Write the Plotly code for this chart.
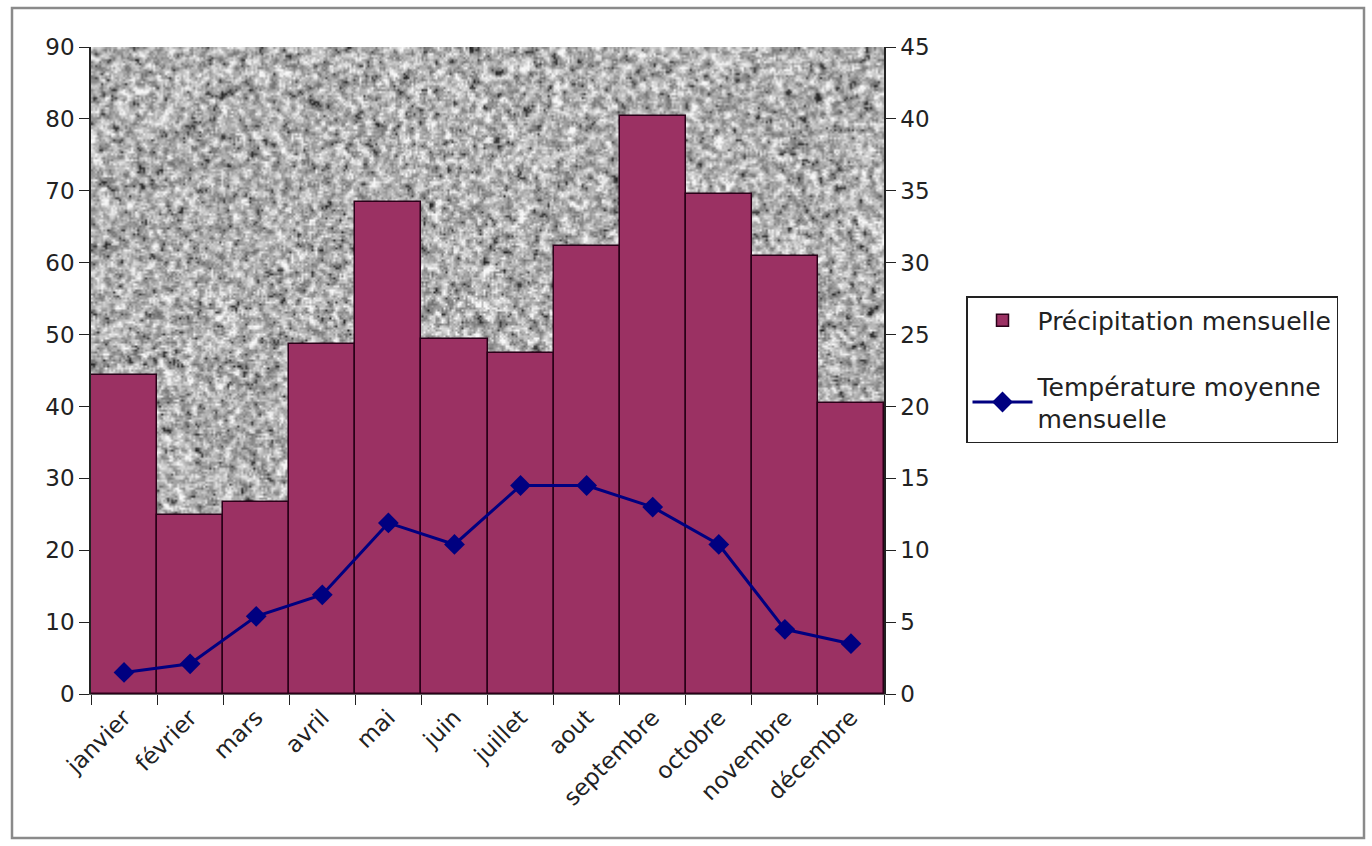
import base64
import struct
import zlib

import numpy as np
import plotly.graph_objects as go

# Données mensuelles
mois = ["janvier", "février", "mars", "avril", "mai", "juin", "juillet",
        "aout", "septembre", "octobre", "novembre", "décembre"]
precipitation = [44.4, 24.9, 26.7, 48.7, 68.4, 49.4, 47.4, 62.3, 80.4, 69.5, 60.9, 40.5]
temperature = [1.5, 2.1, 5.4, 6.9, 11.9, 10.4, 14.5, 14.5, 13.0, 10.4, 4.5, 3.5]
ticks_gauche = list(range(0, 91, 10))
ticks_droite = list(range(0, 46, 5))

W, H = 1372, 846
L, R, T, B = 91, 488, 47, 152
PW, PH = W - L - R, H - T - B


def png_gris(a):
    """Encode un tableau uint8 2D en PNG niveaux de gris."""
    h, w = a.shape
    raw = b"".join(b"\x00" + a[r].tobytes() for r in range(h))

    def chunk(tag, data):
        c = tag + data
        return struct.pack(">I", len(data)) + c + struct.pack(">I", zlib.crc32(c) & 0xFFFFFFFF)

    return (b"\x89PNG\r\n\x1a\n"
            + chunk(b"IHDR", struct.pack(">IIBBBBB", w, h, 8, 0, 0, 0, 0))
            + chunk(b"IDAT", zlib.compress(raw, 9))
            + chunk(b"IEND", b""))


def texture_granit(w, h, seed=11):
    """Fond de type granit pour la zone de tracé."""
    rng = np.random.default_rng(seed)
    n = rng.standard_normal((h + 2, w + 2))
    flou = sum(n[i:i + h, j:j + w] for i in range(3) for j in range(3)) / 3.0
    fin = rng.standard_normal((h, w))
    g = 0.75 * flou + 0.45 * fin
    v = 176 + 40 * g
    v = np.where(g < -1.7, v - 35, v)
    return np.clip(v, 35, 248).astype(np.uint8)


fond = texture_granit(PW // 2, PH // 2)
fond_uri = "data:image/png;base64," + base64.b64encode(png_gris(fond)).decode()

police = "DejaVu Sans"
encre = "#222222"

fig = go.Figure()
fig.add_trace(go.Bar(
    x=mois, y=precipitation, name="Précipitation mensuelle",
    legendgroup="a",
    marker=dict(color="#9b3163", line=dict(color="#2a0018", width=1.5)),
))
fig.add_trace(go.Scatter(
    x=mois, y=temperature, yaxis="y2", name="Température moyenne<br>mensuelle",
    legendgroup="b",
    mode="lines+markers",
    line=dict(color="#000080", width=3),
    marker=dict(symbol="diamond", size=16, color="#000080"),
))

axe_y = dict(
    ticks="outside", ticklen=10, tickwidth=1.2, tickcolor=encre,
    showline=True, linecolor=encre, linewidth=1.5,
    showgrid=False, zeroline=False,
    tickfont=dict(family=police, size=23, color=encre),
)

fig.update_layout(
    width=W, height=H,
    margin=dict(l=L, r=R, t=T, b=B),
    paper_bgcolor="white",
    plot_bgcolor="rgba(0,0,0,0)",
    bargap=0,
    font=dict(family=police, color=encre),
    xaxis=dict(
        type="category", range=[-0.5, 11.5], tickson="boundaries",
        ticks="outside", ticklen=10, tickcolor=encre, tickangle=-45,
        showline=True, linecolor="#666", linewidth=1, showgrid=False,
        tickfont=dict(family=police, size=23, color=encre),
    ),
    yaxis=dict(range=[0, 90], tickvals=ticks_gauche, **axe_y),
    yaxis2=dict(range=[0, 45], tickvals=ticks_droite, overlaying="y", side="right", **axe_y),
    legend=dict(
        x=(966 - L) / PW, y=(H - B - 296) / PH, xanchor="left", yanchor="top",
        bordercolor=encre, borderwidth=1.5, bgcolor="white",
        font=dict(family=police, size=25, color=encre),
        traceorder="grouped", tracegroupgap=30, itemwidth=60,
    ),
    images=[dict(
        source=fond_uri, xref="paper", yref="paper", x=0, y=1, sizex=1, sizey=1,
        xanchor="left", yanchor="top", sizing="stretch", layer="below",
    )],
    shapes=[dict(
        type="rect", xref="paper", yref="paper",
        x0=(12 - L) / PW, x1=(1364 - L) / PW,
        y0=(H - B - 838) / PH, y1=(H - B - 8) / PH,
        line=dict(color="#8a8a8a", width=2.5), layer="below",
    )],
)

fig.write_html("out.html")
